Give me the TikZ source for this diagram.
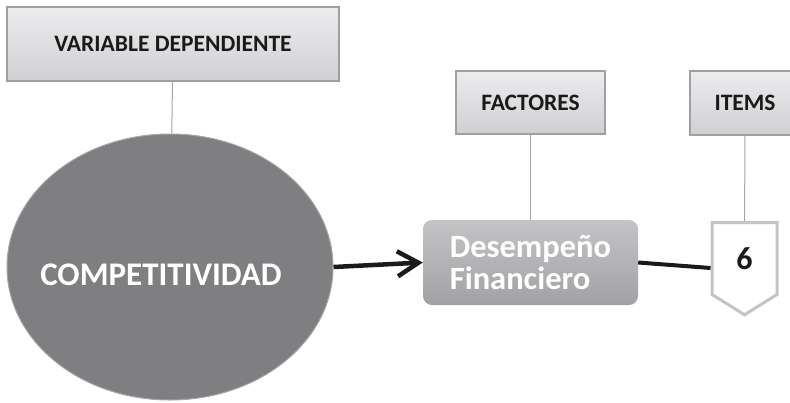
\documentclass[tikz,border=0pt]{standalone}
\usepackage{fontspec}
\setmainfont{Carlito}
\usetikzlibrary{positioning,shapes.geometric,shapes.symbols,arrows.meta}
\definecolor{labeltop}{RGB}{236,236,238}
\definecolor{labelbottom}{RGB}{208,208,210}
\definecolor{boxline}{RGB}{160,160,162}
\definecolor{linkgray}{RGB}{165,165,167}
\definecolor{compgray}{RGB}{127,127,130}
\definecolor{comprim}{RGB}{165,165,168}
\definecolor{fintop}{RGB}{196,196,198}
\definecolor{finbottom}{RGB}{162,162,164}
\definecolor{itemline}{RGB}{196,196,198}
\definecolor{textdark}{RGB}{26,26,26}
\begin{document}
\begin{tikzpicture}[x=1pt,y=-1pt,
    labelbox/.style={rectangle,draw=boxline,line width=1.2pt,top color=labeltop,bottom color=labelbottom,inner sep=0pt,text=textdark,font=\fontsize{23.5}{23.5}\selectfont\bfseries},
    link/.style={draw=linkgray,line width=1pt}]
    \useasboundingbox (0,0) rectangle (790,402);
    \node[labelbox,minimum width=332,minimum height=74] (vardep) at (173,44) {VARIABLE DEPENDIENTE};
    \node[ellipse,fill=compgray,draw=comprim,line width=1pt,minimum width=326,minimum height=266] (comp) at (170,267) {};
    \node[text=white,font=\fontsize{33}{33}\selectfont\bfseries] (comp_label) at (161,275) {COMPETITIVIDAD};
    \node[labelbox,minimum width=149,minimum height=63] (factores) at (530.5,102.5) {FACTORES};
    \node[labelbox,minimum width=110,minimum height=64] (items) at (745,103) {ITEMS};
    \node[rectangle,rounded corners=9pt,top color=fintop,bottom color=finbottom,minimum width=215,minimum height=85,text=white,align=left,font=\fontsize{32.5}{32}\selectfont\bfseries] (desemp) at (530.5,262.5) {Desempeño\\Financiero};
    \node[signal,signal to=south,signal pointer angle=116,draw=itemline,line width=3pt,fill=white,minimum width=65,minimum height=77,inner sep=0pt,text=textdark,font=\fontsize{32}{32}\selectfont\bfseries] (six) at (744.5,258.5) {6};

    \draw[link] (vardep) -- (comp) ;
    \draw[link] (factores) -- (desemp) ;
    \draw[link] (items) -- (six) ;
    \draw[-{Straight Barb[length=21pt,width=25pt]},line width=4.5pt,textdark] (comp.east) -- (desemp.west) ;
    \draw[line width=4pt,textdark] (desemp.east) -- ([yshift=-9.5pt]six.west) ;
\end{tikzpicture}
\end{document}
